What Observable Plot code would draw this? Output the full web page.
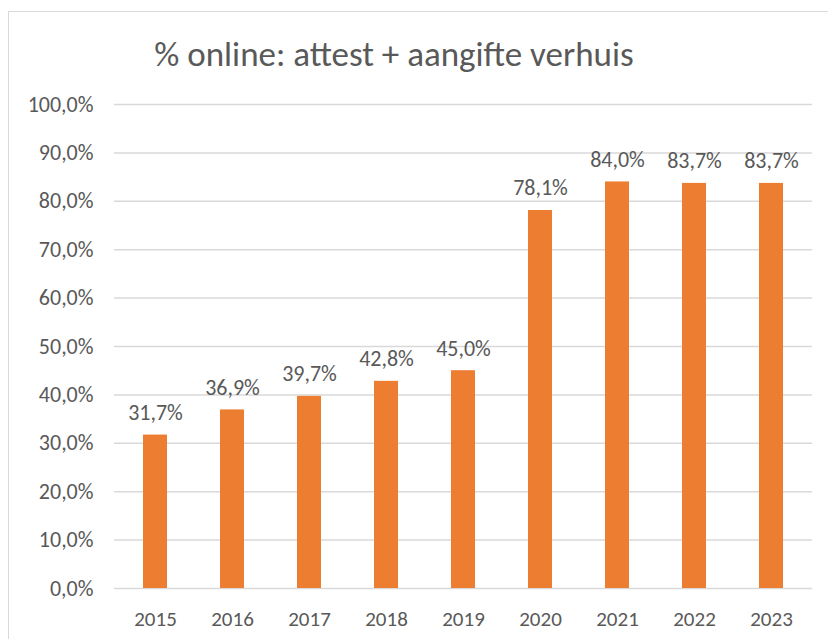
<!DOCTYPE html>
<html>
<head>
<meta charset="utf-8">
<script src="https://cdn.jsdelivr.net/npm/d3@7"></script>
<script src="https://cdn.jsdelivr.net/npm/@observablehq/plot@0.6"></script>
<style>
  html, body { margin: 0; padding: 0; background: #fff; }
  #wrap { position: relative; width: 828px; height: 639px; overflow: hidden; font-family: Carlito, "Open Sans", sans-serif; }
  #frame { position: absolute; left: 8px; top: 11px; width: 840px; height: 660px; border: 1.5px solid #d9d9d9; box-sizing: border-box; }
  #title { position: absolute; left: 100px; width: 588px; top: 37px; line-height: 1; text-align: center; font-size: 35px; color: #595959; white-space: nowrap; }
  #chart { position: absolute; left: 0; top: 0; }
</style>
</head>
<body>
<div id="wrap">
  <div id="frame"></div>
  <div id="title">% online: attest + aangifte verhuis</div>
  <div id="chart"></div>
</div>
<script>
const years = ["2015","2016","2017","2018","2019","2020","2021","2022","2023"];
const values = [0.317, 0.369, 0.397, 0.428, 0.450, 0.781, 0.840, 0.837, 0.837];
const yTicks = [0,0.1,0.2,0.3,0.4,0.5,0.6,0.7,0.8,0.9,1.0];

const data = years.map((y, i) => ({year: y, value: values[i]}));
const fmt = v => (v * 100).toFixed(1).replace(".", ",") + "%";

const chart = Plot.plot({
  width: 828,
  height: 639,
  marginLeft: 114,
  marginRight: 16,
  marginTop: 104,
  marginBottom: 51,
  style: { fontFamily: "Carlito, 'Open Sans', sans-serif", fontSize: "22px", color: "#595959", background: "transparent", overflow: "visible" },
  x: { domain: years, paddingInner: 0.69, paddingOuter: 0.345, label: null },
  y: { domain: [0, 1], label: null },
  marks: [
    Plot.gridY(yTicks, { stroke: "#d9d9d9", strokeOpacity: 1, strokeWidth: 1.5 }),
    Plot.barY(data, { x: "year", y: "value", fill: "#ED7D31" }),
    Plot.text(data, { x: "year", y: "value", text: d => fmt(d.value), lineAnchor: "bottom", dy: -15, fill: "#595959", fontSize: 22 }),
    Plot.axisY({ ticks: yTicks, tickFormat: fmt, tickSize: 0, tickPadding: 21, fontSize: 22, fill: "#595959", label: null }),
    Plot.axisX({ tickSize: 0, tickPadding: 23, fontSize: 21, fill: "#595959", label: null })
  ]
});
document.getElementById("chart").appendChild(chart);
</script>
</body>
</html>
